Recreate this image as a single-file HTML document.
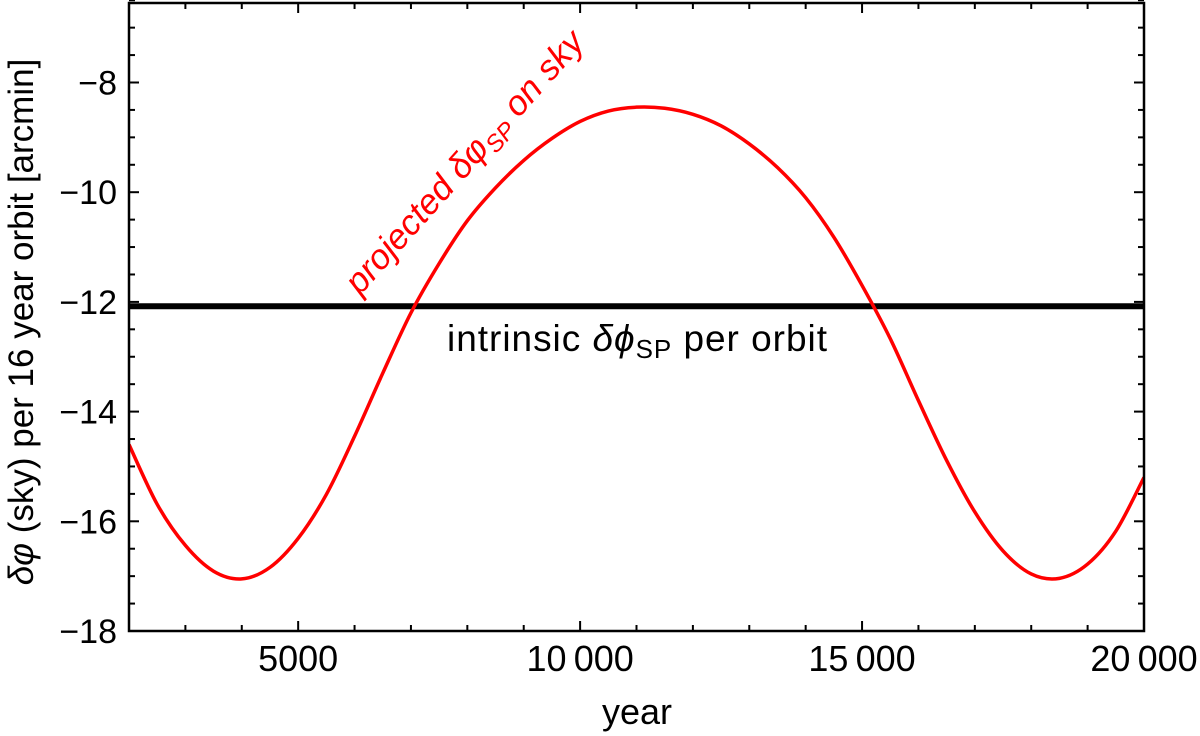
<!DOCTYPE html>
<html><head><meta charset="utf-8"><style>
html,body{margin:0;padding:0;background:#fff;}
svg{display:block;font-family:"Liberation Sans",sans-serif;}
</style></head><body>
<svg id="chart" width="1200" height="736" viewBox="0 0 1200 736">
<g id="plot"></g>
<text x="637" y="724" text-anchor="middle" font-size="36" font-family="Liberation Sans, sans-serif">year</text>
<text transform="translate(33,322) rotate(-90)" text-anchor="middle" font-size="35" font-family="Liberation Sans, sans-serif"><tspan font-style="italic">δφ</tspan> (sky) per 16 year orbit [arcmin]</text>
<text transform="translate(360,296) rotate(-48.2)" font-size="35" fill="#ff0000" font-family="Liberation Sans, sans-serif"><tspan font-style="italic">projected δφ</tspan><tspan font-style="italic" font-size="24" dy="7">SP</tspan><tspan font-style="italic" dy="-7"> on sky</tspan></text>
<text x="447" y="351" font-size="37" fill="#000" textLength="380" font-family="Liberation Sans, sans-serif">intrinsic <tspan font-style="italic">δϕ</tspan><tspan font-size="26" dy="7">SP</tspan><tspan dy="-7"> per orbit</tspan></text>
</svg>
<script>
const years = [2000,2500,3000,3500,4000,4500,5000,5500,6000,6500,7000,7500,8000,8500,9000,9500,10000,10500,11000,11500,12000,12500,13000,13500,14000,14500,15000,15500,16000,16500,17000,17500,18000,18500,19000,19500,20000];
const skyValues = [-14.6,-15.69,-16.44,-16.91,-17.05,-16.84,-16.31,-15.51,-14.45,-13.3,-12.2,-11.3,-10.52,-9.92,-9.42,-9.02,-8.71,-8.52,-8.45,-8.47,-8.58,-8.79,-9.12,-9.55,-10.1,-10.82,-11.7,-12.67,-13.80,-14.89,-15.83,-16.54,-16.96,-17.04,-16.78,-16.18,-15.2];
const intrinsicValue = [-12.08];
const xTicks = [5000,10000,15000,20000];
const xTickLabels = ["5000","10\u2009000","15\u2009000","20\u2009000"];
const yTicks = [-8,-10,-12,-14,-16,-18];
const yTickLabels = ["\u22128","\u221210","\u221212","\u221214","\u221216","\u221218"];

const L=129,R=1144,T=3,B=631;
const xMin=2000,xMax=20000;
const X=v=>L+(v-xMin)/(xMax-xMin)*(R-L);
const Y=v=>82.5+(-8-v)*54.85;
const NS="http://www.w3.org/2000/svg";
const g=document.getElementById('plot');
function mk(tag,attrs,parent){const e=document.createElementNS(NS,tag);for(const k in attrs)e.setAttribute(k,attrs[k]);(parent||g).appendChild(e);return e;}

const defs=mk('defs',{});
const cp=mk('clipPath',{id:'clip'},defs);
mk('rect',{x:L,y:T,width:R-L,height:B-T},cp);

for(let v=2000;v<=20000;v+=1000){
  const major=v%5000===0;
  const len=major?10:6;
  const t1=mk('line',{x1:X(v),x2:X(v),y1:B,y2:B-len,stroke:'#000','stroke-width':2});
  
  
  mk('line',{x1:X(v),x2:X(v),y1:T,y2:T+len,stroke:'#000','stroke-width':2});
}
for(let v=-18;v<=-6.5;v+=0.5){
  const major=Number.isInteger(v)&&v%2===0;
  const len=major?10:6;
  const t=mk('line',{x1:L,x2:L+len,y1:Y(v),y2:Y(v),stroke:'#000','stroke-width':2});
  
  
  mk('line',{x1:R,x2:R-len,y1:Y(v),y2:Y(v),stroke:'#000','stroke-width':2});
}
xTicks.forEach((v,i)=>{
  const t=mk('text',{x:X(v),y:671,'text-anchor':'middle','font-size':36,fill:'#000'});
  t.textContent=xTickLabels[i];
  
  
});
yTicks.forEach((v,i)=>{
  const t=mk('text',{x:117,y:Y(v)+12,'text-anchor':'end','font-size':34,fill:'#000'});
  t.textContent=yTickLabels[i];
  
  
});

const hl=mk('line',{x1:L,x2:R,y1:Y(intrinsicValue[0]),y2:Y(intrinsicValue[0]),stroke:'#000','stroke-width':6});



const pts=years.map((y,i)=>[X(y),Y(skyValues[i])]);
let d=`M${pts[0][0]},${pts[0][1]}`;
for(let i=0;i<pts.length-1;i++){
  const p0=pts[i-1]||pts[i],p1=pts[i],p2=pts[i+1],p3=pts[i+2]||pts[i+1];
  d+=` C${p1[0]+(p2[0]-p0[0])/6},${p1[1]+(p2[1]-p0[1])/6} ${p2[0]-(p3[0]-p1[0])/6},${p2[1]-(p3[1]-p1[1])/6} ${p2[0]},${p2[1]}`;
}
const curve=mk('path',{d:d,fill:'none',stroke:'#ff0000','stroke-width':3.5,'clip-path':'url(#clip)'});



const fr=mk('rect',{x:L,y:T,width:R-L,height:B-T,fill:'none',stroke:'#000','stroke-width':2.5});


</script>
</body></html>
